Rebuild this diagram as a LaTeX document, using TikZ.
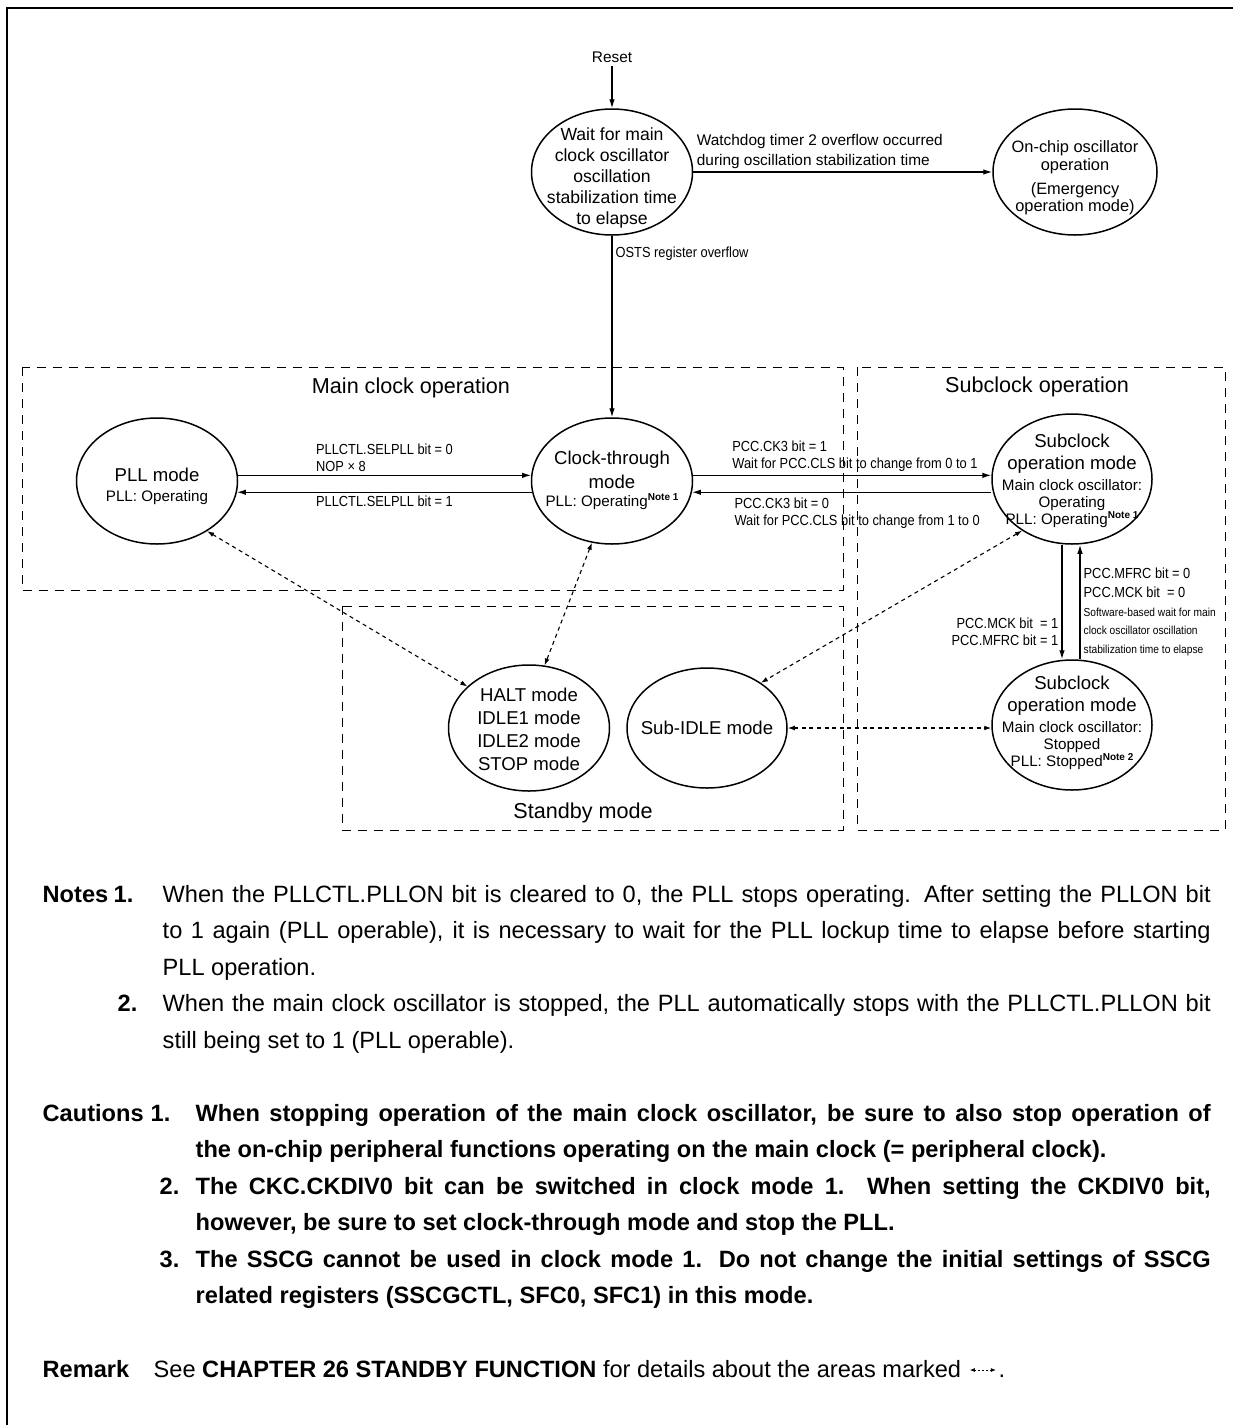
\documentclass[tikz,border=0pt]{standalone}
\usepackage{fontspec}
\setmainfont{Liberation Sans}
\newfontfamily\narrowfont{Liberation Sans}[FakeStretch=0.88]
\usetikzlibrary{arrows.meta, positioning, shapes.geometric, calc}

\newcommand\tightlines{\lineskiplimit=-20pt\relax}
\newcommand\bigf{\fontsize{9.3}{11.5}\selectfont}
\newcommand\smallf{\fontsize{7.6}{8.5}\selectfont\tightlines}
\newcommand\tinyf{\narrowfont\fontsize{5.8}{9}\selectfont}
\newcommand\notemark[1]{\raisebox{3pt}{\fontsize{5}{6}\selectfont\bfseries Note #1}}

\tikzset{
  every picture/.style={line width=0.7pt},
  state/.style={ellipse, draw, line width=0.75pt, minimum width=80.5pt, minimum height=63pt, inner sep=0pt},
  inside/.style={align=center, inner sep=0pt},
  mixed/.style={inside, font=\smallf},
  txt/.style={font=\fontsize{7.7}{9.8}\selectfont, align=left, inner sep=1.5pt},
  lbl/.style={font=\narrowfont\fontsize{7.3}{8.7}\selectfont\tightlines, align=left, inner sep=1.5pt},
  area/.style={draw, line width=0.45pt, dash pattern=on 4.5pt off 3.5pt},
  areatitle/.style={font=\fontsize{10.8}{12}\selectfont, inner sep=0pt},
  arrow/.style={-{Latex[length=4.5pt, width=2.8pt]}, line width=0.65pt},
  sby/.style={{Latex[length=3.5pt, width=2.4pt]}-{Latex[length=3.5pt, width=2.4pt]}, line width=0.55pt, dash pattern=on 2pt off 1.8pt},
  note/.style={font=\fontsize{11.8}{18.25}\selectfont, inner sep=0pt, anchor=base west},
  notehead/.style={note, font=\fontsize{11.8}{18.25}\selectfont\bfseries},
  notebody/.style={note, text width=524pt, align=justify},
}

\begin{document}
\begin{tikzpicture}[x=0.5pt, y=-0.5pt]
  \useasboundingbox (0,0) rectangle (1233,1425);
  \draw[line width=1.3pt] (7,1425) -- (7,8) -- (1233,8);

  % operation areas
  \draw[area] (22,367) rectangle (843,590);
  \draw[area] (857,367) rectangle (1225,830);
  \draw[area] (342,606) rectangle (843,830);
  \node[areatitle] (mainT) at (411,388) {Main clock operation};
  \node[areatitle] (subT) at (1037,387) {Subclock operation};
  \node[areatitle] (sbyT) at (583,813) {Standby mode};

  % states
  \node[txt] (reset) at (612,57) {Reset};
  \node[state] (wait) at (612,172) {};
  \node[inside, font=\fontsize{8.8}{10.5}\selectfont] (waitT) at (612,178) {Wait for main\\clock oscillator\\oscillation\\stabilization time\\to elapse};
  \node[state, minimum width=82pt] (onchip) at (1075,172) {};
  \node[inside, font=\fontsize{8.2}{8.8}\selectfont] (onchipT) at (1075,178) {On-chip oscillator\\operation\\[3pt](Emergency\\operation mode)};
  \node[state] (pll) at (157,481) {};
  \node[mixed] (pllT) at (157,486) {\bigf PLL mode\\[1.5pt]PLL: Operating};
  \node[state] (ct) at (612,481) {};
  \node[mixed] (ctT) at (612,480) {\bigf Clock-through\\[3.5pt]\bigf mode\\[0.5pt]PLL: Operating\notemark{1}};
  \node[state, minimum width=80pt, minimum height=65pt] (sub1) at (1072,479) {};
  \node[mixed] (sub1T) at (1072,481) {\bigf Subclock\\[2.5pt]\bigf operation mode\\[2pt]Main clock oscillator:\\Operating\\PLL: Operating\notemark{1}};
  \node[state, minimum width=80pt, minimum height=65pt] (sub2) at (1072,725) {};
  \node[mixed] (sub2T) at (1072,723) {\bigf Subclock\\[2.5pt]\bigf operation mode\\[2pt]Main clock oscillator:\\Stopped\\PLL: Stopped\notemark{2}};
  \node[state] (halt) at (529,728) {};
  \node[inside, font=\bigf] (haltT) at (529,729) {HALT mode\\IDLE1 mode\\IDLE2 mode\\STOP mode};
  \node[state, minimum width=80pt, minimum height=60pt] (subidle) at (707,728) {};
  \node[inside, font=\bigf] (subidleT) at (707,728) {Sub-IDLE mode};

  % transitions
  \draw[arrow] (reset) -- (wait);
  \draw[arrow] (wait) -- node[txt, pos=0, anchor=south west] {Watchdog timer 2 overflow occurred\\during oscillation stabilization time} (onchip);
  \draw[arrow] (wait) -- node[lbl, pos=0.1, anchor=west] {OSTS register overflow} (ct);
  \draw[arrow] (pll.4) -- node[lbl, above] {PLLCTL.SELPLL bit = 0\\NOP × 8} (ct.176);
  \draw[arrow] (ct.-172) -- node[lbl, below] {PLLCTL.SELPLL bit = 1} (pll.-8);
  \draw[arrow] (ct.4) -- node[lbl, pos=0.12, anchor=south west] {PCC.CK3 bit = 1\\Wait for PCC.CLS bit to change from 0 to 1} (ct.4 -| sub1.west);
  \draw[arrow] (ct.-8 -| sub1.west) -- node[lbl, pos=0.87, anchor=north west, yshift=-1pt] {PCC.CK3 bit = 0\\Wait for PCC.CLS bit to change from 1 to 0} (ct.-8);
  \draw[arrow] ($(sub1.south)+(-10,0)$) -- node[lbl, left, align=right, pos=0.76] {PCC.MCK bit~~= 1\\PCC.MFRC bit = 1} ($(sub2.north)+(-10,0)$);
  \draw[arrow] ($(sub2.north)+(8,0)$) -- node[lbl, font=\narrowfont\fontsize{7.3}{9.4}\selectfont\tightlines, anchor=north west, pos=0.83] {PCC.MFRC bit = 0\\PCC.MCK bit~~= 0\\\tinyf Software-based wait for main\\\tinyf clock oscillator oscillation\\\tinyf stabilization time to elapse} ($(sub1.south)+(8,0)$);

  % standby transitions
  \draw[sby] (pll.-45) -- (halt.146);
  \draw[sby] (ct.-108) -- (halt.76);
  \draw[sby] (sub1.-134) -- (subidle.40);
  \draw[sby] (subidle.east) -- (subidle.east -| sub2.west);

  % notes
  \node[notehead] (notesL) at (42,902) {Notes};
  \node[notehead] (n1) at (113,902) {1.};
  \node[notebody] (n1T) at (162,902) {When the PLLCTL.PLLON bit is cleared to 0, the PLL stops operating.  After setting the PLLON bit\linebreak to 1 again (PLL operable), it is necessary to wait for the PLL lockup time to elapse before starting\linebreak PLL operation.};
  \node[notehead] (n2) at (117,1011.5) {2.};
  \node[notebody] (n2T) at (162,1011.5) {When the main clock oscillator is stopped, the PLL automatically stops with the PLLCTL.PLLON bit\linebreak still being set to 1 (PLL operable).};

  \node[notehead] (cautL) at (42,1121) {Cautions};
  \node[notehead] (c1) at (150,1121) {1.};
  \node[notebody, text width=507.5pt, font=\fontsize{11.8}{18.25}\selectfont\bfseries] (c1T) at (195,1121) {When stopping operation of the main clock oscillator, be sure to also stop operation of\linebreak the on-chip peripheral functions operating on the main clock (= peripheral clock).};
  \node[notehead] (c2) at (159,1194) {2.};
  \node[notebody, text width=507.5pt, font=\fontsize{11.8}{18.25}\selectfont\bfseries] (c2T) at (195,1194) {The CKC.CKDIV0 bit can be switched in clock mode 1.  When setting the CKDIV0 bit,\linebreak however, be sure to set clock-through mode and stop the PLL.};
  \node[notehead] (c3) at (159,1267) {3.};
  \node[notebody, text width=507.5pt, font=\fontsize{11.8}{18.25}\selectfont\bfseries] (c3T) at (195,1267) {The SSCG cannot be used in clock mode 1.  Do not change the initial settings of SSCG\linebreak related registers (SSCGCTL, SFC0, SFC1) in this mode.};

  \node[notehead] (remL) at (42,1377) {Remark};
  \node[note] (remT) at (153,1377) {See \textbf{CHAPTER 26 STANDBY FUNCTION} for details about the areas marked};
  \coordinate (m1) at ($(remT.base east)+(8,-7)$);
  \coordinate (m2) at ($(m1)+(26,0)$);
  \draw[line width=0.4pt, dash pattern=on 1pt off 1pt, {Latex[length=2.5pt, width=2pt]}-{Latex[length=2.5pt, width=2pt]}] (m1) -- (m2);
  \node[note] (remDot) at ($(remT.base east)+(36,0)$) {.};
\end{tikzpicture}
\end{document}
